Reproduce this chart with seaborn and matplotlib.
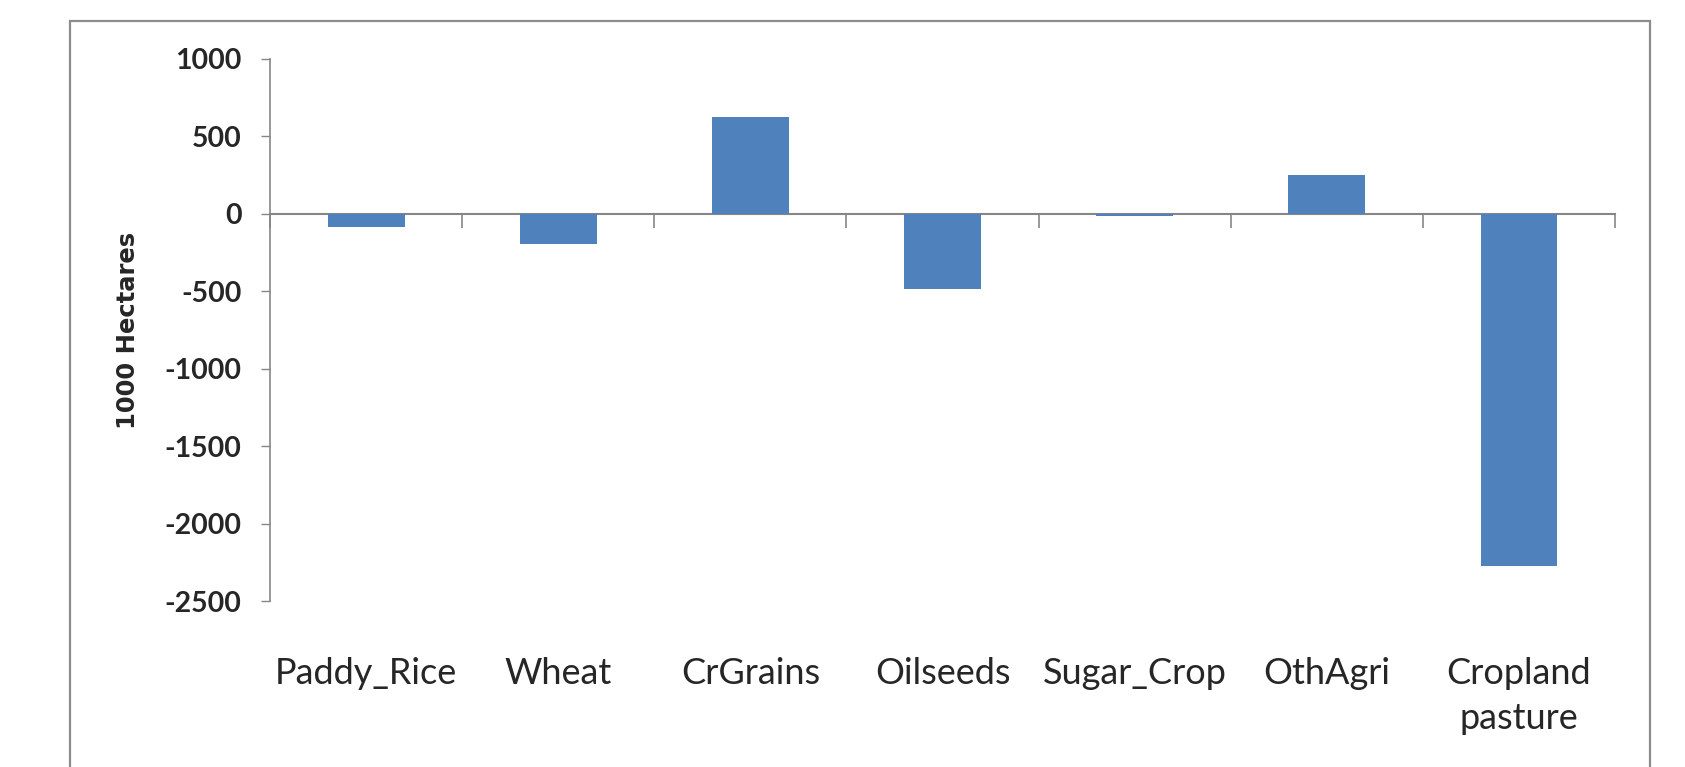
import matplotlib
matplotlib.use("Agg")
import matplotlib.pyplot as plt
import matplotlib.patches as mpatches
import seaborn as sns

# values (1000 hectares)
crops = ['Paddy_Rice', 'Wheat', 'CrGrains', 'Oilseeds', 'Sugar_Crop', 'OthAgri', 'Cropland\npasture']
change = [-88, -196, 623, -488, -15, 252, -2271]
yticks = [1000, 500, 0, -500, -1000, -1500, -2000, -2500]

bar_color = '#4F81BD'
axis_gray = '#868686'

sns.set_style("white")
plt.rcParams['font.family'] = ['Lato', 'DejaVu Sans']

fig = plt.figure(figsize=(16.85, 7.67), dpi=100)
ax = fig.add_axes([270 / 1685, 1 - 601 / 767, 1345 / 1685, 542 / 767])

sns.barplot(x=crops, y=change, color=bar_color, saturation=1, width=0.4,
            edgecolor='none', ax=ax)

ax.set_xlim(-0.5, len(crops) - 0.5)
ax.set_ylim(-2500, 1000)
ax.set_yticks(yticks)
ax.set_yticklabels([str(v) for v in yticks], fontsize=20.5, fontweight='bold')
ax.tick_params(axis='y', direction='out', length=6.5, width=1, color=axis_gray,
               pad=14, left=True)

# category names sit under the plot area
ax.set_xticks(range(len(crops)))
ax.set_xticklabels(crops, fontsize=26, linespacing=1.45)
ax.tick_params(axis='x', length=0, pad=40)

for side in ['top', 'right', 'bottom']:
    ax.spines[side].set_visible(False)
ax.spines['left'].set_color(axis_gray)
ax.spines['left'].set_linewidth(1.2)

# category axis crossing at zero, ticks between the categories
zero_pos = (0 - (-2500)) / (1000 - (-2500))
sec = ax.secondary_xaxis(zero_pos)
sec.set_xticks([i + 0.5 for i in range(-1, len(crops))])
sec.set_xticklabels([])
sec.tick_params(axis='x', direction='in', length=10, width=1.2, color=axis_gray)
for side in ['top', 'bottom']:
    sec.spines[side].set_color(axis_gray)
    sec.spines[side].set_linewidth(1.5)

ax.set_ylabel('1000 Hectares', fontsize=17.5, fontweight='bold',
              family=['DejaVu Sans'])
ax.yaxis.set_label_coords(-0.097, 0.5)

# outer chart border
fig.patches.append(mpatches.Rectangle((70 / 1685, -0.1), 1580 / 1685, 1.1 - 21 / 767,
                                      transform=fig.transFigure, fill=False,
                                      edgecolor='#8c8c8c', linewidth=1.6))

fig.savefig('out.png', dpi=100)
